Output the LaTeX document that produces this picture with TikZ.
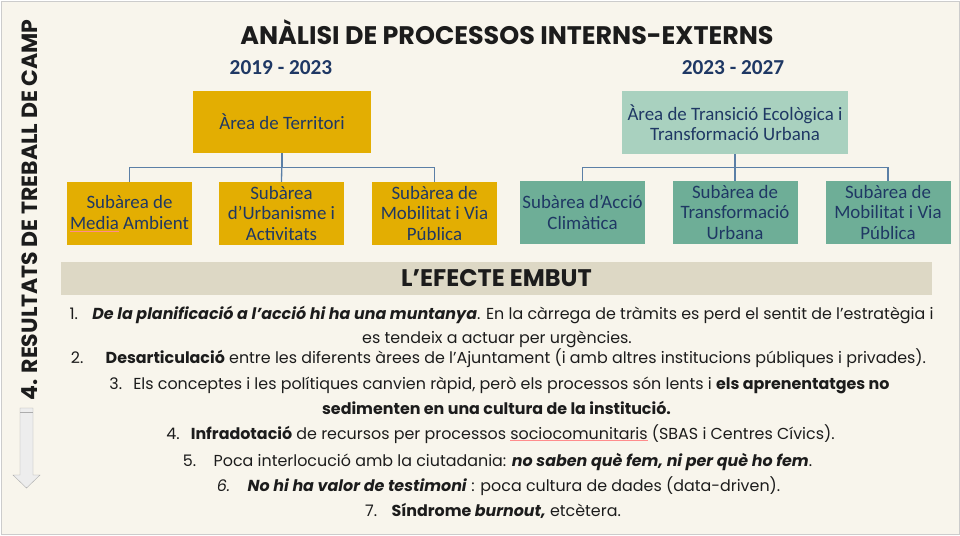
\documentclass[tikz,border=0pt]{standalone}
\usepackage{fontspec}
\setmainfont{Poppins}
\newfontfamily\calibri{Carlito}
\usetikzlibrary{positioning}
\definecolor{cream}{HTML}{F8F5EC}
\definecolor{gold}{HTML}{E3AE02}
\definecolor{paleteal}{HTML}{A9D1BF}
\definecolor{teal2}{HTML}{6EAE97}
\definecolor{navy}{HTML}{1F3864}
\definecolor{linkblue}{HTML}{5B7FA6}
\definecolor{banner}{HTML}{DDD8C5}
\definecolor{ink}{HTML}{1C1C1C}
\tikzset{
  areabox/.style={fill=gold, text=navy, font=\calibri\fontsize{18.9}{20.5}\selectfont, align=center, inner sep=0pt, minimum width=125pt, minimum height=63pt},
  conn/.style={linkblue, line width=1.3pt},
  item/.style={text=ink, font=\fontsize{15.9}{18}\selectfont, inner sep=0pt, anchor=base},
  spell/.style={red!45, line width=0.5pt}
}
\begin{document}
\begin{tikzpicture}[x=1pt,y=-1pt]
\useasboundingbox (0,0) rectangle (960,535);
\draw[fill=cream,draw=gray!40] (1,1) rectangle (959,534);
% side title and arrow
\node[rotate=90, text=ink, font=\bfseries\fontsize{22}{24}\selectfont] (side) at (30,210) {4. RESULTATS DE TREBALL DE CAMP};
\draw[gray!65, fill=gray!14] (20,408) -- (33,408) -- (33,475) -- (40,475) -- (26.5,488) -- (13,475) -- (20,475) -- cycle;
\draw[gray!65] (20,412) -- (33,412);
% heading
\node[text=ink, font=\bfseries\fontsize{25.4}{28}\selectfont] (title) at (507,32) {ANÀLISI DE PROCESSOS INTERNS-EXTERNS};
\node[text=navy, font=\calibri\bfseries\fontsize{21.3}{24}\selectfont] (yearA) at (281,68) {2019 - 2023};
\node[text=navy, font=\calibri\bfseries\fontsize{21.3}{24}\selectfont] (yearB) at (733,68) {2023 - 2027};
% 2019-2023
\node[areabox, minimum width=178pt, minimum height=62pt] (terr) at (282,122) {Àrea de Territori};
\node[areabox] (mediA) at (129.5,213.5) {Subàrea de\\{\color{red!45}\underline{\color{navy}Media}} Ambient};
\node[areabox] (urbA) at (281.5,213.5) {Subàrea\\d’Urbanisme i\\Activitats};
\node[areabox] (mobA) at (434.5,213.5) {Subàrea de\\Mobilitat i Via\\Pública};
\draw[conn] (terr.south) -- (urbA.north);
\draw[conn] (terr.south) -- ++(0,14) -| (mediA.north);
\draw[conn] (terr.south) -- ++(0,14) -| (mobA.north);
% 2023-2027
\node[areabox, fill=paleteal, minimum width=226pt] (trans) at (735,122.5) {Àrea de Transició Ecològica i\\Transformació Urbana};
\node[areabox, fill=teal2] (climB) at (582.5,212.5) {Subàrea d’Acció\\Climàtica};
\node[areabox, fill=teal2] (urbB) at (735,212.5) {Subàrea de\\Transformació\\Urbana};
\node[areabox, fill=teal2] (mobB) at (888,212.5) {Subàrea de\\Mobilitat i Via\\Pública};
\draw[conn] (trans.south) -- (urbB.north);
\draw[conn] (trans.south) -- ++(0,13) -| (climB.north);
\draw[conn] (trans.south) -- ++(0,13) -| (mobB.north);
% l'efecte embut
\node[fill=banner, minimum width=871pt, minimum height=33pt, inner sep=0pt] (band) at (496.5,278.5) {};
\node[text=ink, font=\bfseries\fontsize{24}{26}\selectfont] (bandtxt) at (band) {L’EFECTE EMBUT};
\node[item] (it1) at (501.5,319) {1.\hspace{0.9em}\textbf{\textit{De la planificació a l’acció hi ha una muntanya}}. En la càrrega de tràmits es perd el sentit de l’estratègia i};
\node[item] (it1b) at (497,343) {es tendeix a actuar per urgències.};
\node[item] (it2) at (498.5,363) {2.\hspace{1.4em}\textbf{Desarticulació} entre les diferents àrees de l’Ajuntament (i amb altres institucions públiques i privades).};
\node[item] (it3) at (499.5,389) {3.\hspace{0.7em}Els conceptes i les polítiques canvien ràpid, però els processos són lents i \textbf{els aprenentatges no}};
\node[item] (it3b) at (496.5,414) {\textbf{sedimenten en una cultura de la institució.}};
\node[item] (it4) at (500.5,439) {4.\hspace{0.7em}\textbf{Infradotació} de recursos per processos {\color{red!45}\underline{\color{ink}sociocomunitaris}} (SBAS i Centres Cívics).};
\node[item] (it5) at (497.5,466) {5.\hspace{1.1em}Poca interlocució amb la ciutadania: \textbf{\textit{no saben què fem, ni per què ho fem}}.};
\node[item] (it6) at (498.5,491) {\textit{6.}\hspace{1.1em}\textbf{\textit{No hi ha valor de testimoni}} : poca cultura de dades (data-driven).};
\node[item] (it7) at (493,516) {7.\hspace{0.9em}\textbf{Síndrome \textit{burnout,}} etcètera.};
\end{tikzpicture}
\end{document}
